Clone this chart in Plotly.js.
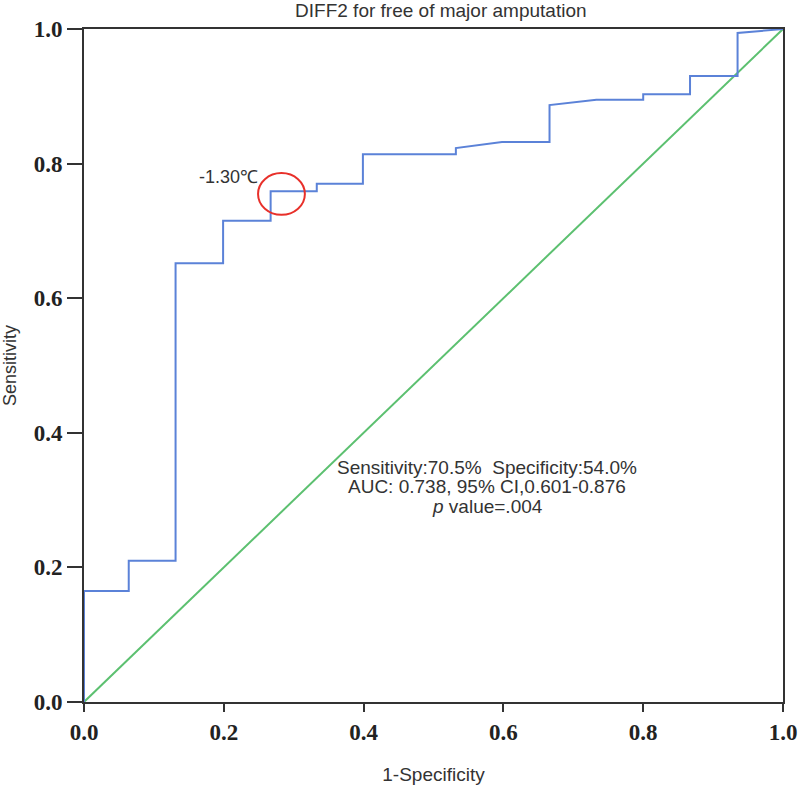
<!DOCTYPE html>
<html>
<head>
<meta charset="utf-8">
<script src="https://cdn.plot.ly/plotly-3.0.1.min.js"></script>
<style>body{margin:0;background:#fff}</style>
</head>
<body>
<div id="chart" style="width:800px;height:787px"></div>
<script>
// ROC curve vertices
var fpr = [0, 0, 0.064, 0.064, 0.131, 0.131, 0.199, 0.199, 0.267, 0.267, 0.333, 0.333, 0.399, 0.399, 0.532, 0.532, 0.598, 0.666, 0.666, 0.733, 0.8, 0.8, 0.867, 0.867, 0.935, 0.935, 1];
var tpr = [0, 0.165, 0.165, 0.21, 0.21, 0.652, 0.652, 0.715, 0.715, 0.759, 0.759, 0.770, 0.770, 0.814, 0.814, 0.823, 0.832, 0.832, 0.887, 0.895, 0.895, 0.903, 0.903, 0.930, 0.930, 0.994, 1];
var refX = [0, 1];
var refY = [0, 1];
var tickVals = [0, 0.2, 0.4, 0.6, 0.8, 1.0];
var tickText = ['0.0', '0.2', '0.4', '0.6', '0.8', '1.0'];
var statLines = [
  'Sensitivity:70.5%  Specificity:54.0%',
  'AUC: 0.738, 95% CI,0.601-0.876',
  '<i>p</i> value=.004'
];
var statY = [0.349, 0.320, 0.290];

var roc = {
  x: fpr, y: tpr, mode: 'lines', name: 'DIFF2',
  line: {color: '#5b82d8', width: 2}
};
var ref = {
  x: refX, y: refY, mode: 'lines', name: 'Reference',
  line: {color: '#5cc070', width: 2}
};

var sans = '"Liberation Sans", Arial, sans-serif';
var serif = '"Liberation Serif", "Times New Roman", serif';
var textFont = {family: sans, size: 19, color: '#333'};
var tickFont = {family: serif, size: 23, color: '#222', weight: 'bold'};

var notes = [{
  x: 0.207, y: 0.78, xref: 'x', yref: 'y', showarrow: false,
  text: '-1.30\u2103', font: {family: sans, size: 18, color: '#333'},
  xanchor: 'center', yanchor: 'middle'
}];
statLines.forEach(function (t, i) {
  notes.push({
    x: 0.577, y: statY[i], xref: 'x', yref: 'y', showarrow: false,
    text: t, font: textFont, xanchor: 'center', yanchor: 'middle'
  });
});

var layout = {
  width: 800, height: 787,
  margin: {l: 84, r: 17, t: 29, b: 85},
  paper_bgcolor: '#fff', plot_bgcolor: '#fff',
  showlegend: false,
  title: {
    text: 'DIFF2 for free of major amputation',
    font: textFont, x: 0.551, xanchor: 'center',
    y: 0.987, yref: 'container', yanchor: 'middle'
  },
  xaxis: {
    range: [0, 1], tickvals: tickVals, ticktext: tickText,
    showgrid: false, zeroline: false,
    showline: true, linecolor: '#333', linewidth: 2, mirror: true,
    ticks: 'outside', ticklen: 8, tickwidth: 2, tickcolor: '#333',
    tickfont: tickFont,
    title: {text: '1-Specificity', font: textFont, standoff: 24}
  },
  yaxis: {
    range: [0, 1], tickvals: tickVals, ticktext: tickText,
    showgrid: false, zeroline: false,
    showline: true, linecolor: '#333', linewidth: 2, mirror: true,
    ticks: 'outside', ticklen: 15, tickwidth: 2, tickcolor: '#333',
    tickfont: tickFont,
    title: {text: 'Sensitivity', font: {family: sans, size: 18, color: '#333'}, standoff: 12}
  },
  shapes: [{
    type: 'circle', xref: 'x', yref: 'y',
    x0: 0.249, x1: 0.316, y0: 0.724, y1: 0.786,
    line: {color: '#e8302a', width: 2}
  }],
  annotations: notes
};

Plotly.newPlot('chart', [ref, roc], layout, {displayModeBar: false, staticPlot: true});
</script>
</body>
</html>
